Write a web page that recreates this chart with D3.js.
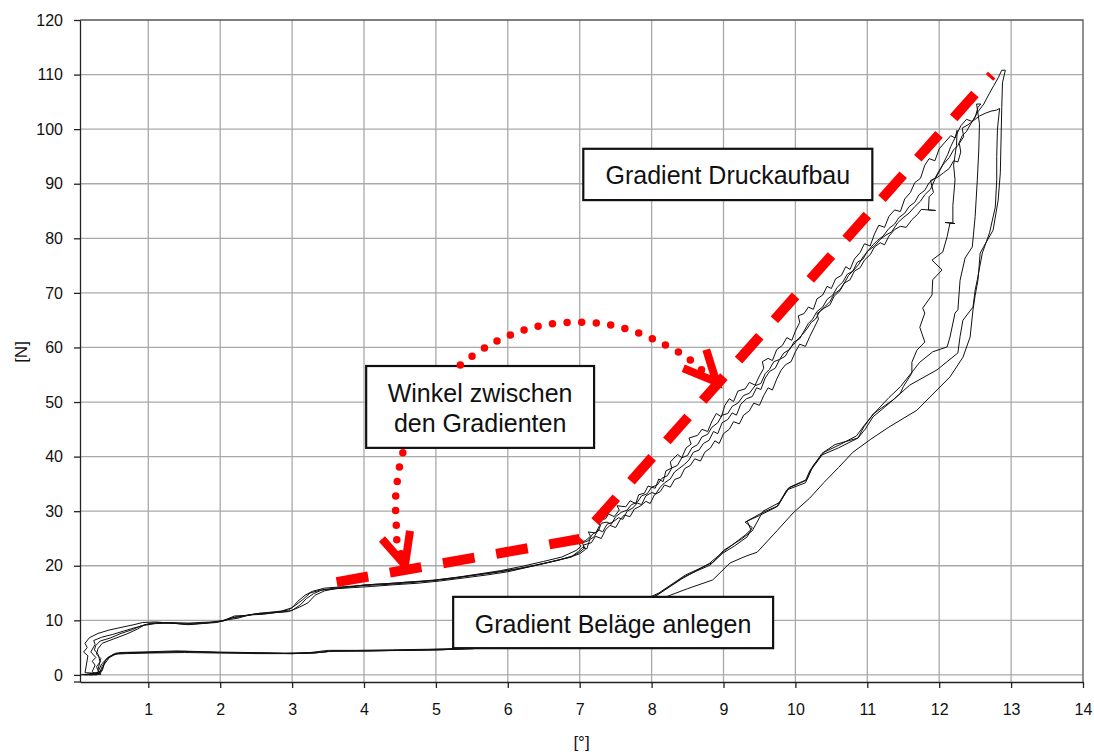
<!DOCTYPE html>
<html>
<head>
<meta charset="utf-8">
<script src="https://cdn.jsdelivr.net/npm/d3@7"></script>
<style>
  html, body { margin: 0; padding: 0; background: #fff; }
  svg { display: block; }
  text { font-family: "Liberation Sans", Arial, Helvetica, sans-serif; }
</style>
</head>
<body>
<svg id="chart" width="1094" height="754"></svg>
<script>
// Axis ticks
const xTicks = [1, 2, 3, 4, 5, 6, 7, 8, 9, 10, 11, 12, 13, 14];
const yTicks = [0, 10, 20, 30, 40, 50, 60, 70, 80, 90, 100, 110, 120];
const xLabel = "[°]";
const yLabel = "[N]";

// Measured force [N] over travel angle [°], four load/unload cycles
const cycleA = [
  [0.06,0.0],[0.30,0.3],[0.12,0.4],[0.16,3.5],[0.10,4.2],[0.15,5.0],[0.12,5.8],[0.18,6.8],[0.30,7.6],[0.45,8.2],[0.62,8.7],[0.80,9.2],[0.92,9.6],[1.10,9.7],[1.30,9.5],[1.50,9.3],[1.70,9.6],[1.90,9.7],[2.05,10.0],[2.20,10.8],[2.35,10.9],[2.50,11.2],[2.70,11.5],[2.85,11.7],[3.00,12.3],[3.08,13.5],[3.18,14.6],[3.28,15.3],[3.45,15.9],[3.65,16.1],[3.90,16.3],[4.15,16.6],[4.40,16.8],[4.70,17.1],[5.00,17.4],[5.30,17.9],[5.60,18.5],[5.90,19.1],[6.20,19.9],[6.50,20.8],[6.75,21.6],[6.95,22.8],
  [7.02,23.6],[6.98,24.2],[7.08,24.6],[7.15,25.4],[7.12,26.2],[7.22,26.0],[7.28,27.4],[7.25,28.3],[7.36,28.6],[7.40,29.5],[7.48,29.0],[7.55,30.2],[7.52,31.0],[7.64,30.8],[7.70,31.9],[7.78,31.4],[7.82,33.0],[7.90,33.3],[7.95,34.6],[8.05,34.2],[8.10,35.9],[8.16,35.4],[8.20,37.4],[8.28,37.9],[8.26,39.0],[8.36,40.4],[8.42,39.8],[8.48,41.6],[8.55,42.3],[8.52,43.4],[8.64,43.9],[8.70,45.0],[8.78,44.6],[8.84,46.5],[8.90,47.9],[8.97,47.3],[9.02,49.4],[9.08,50.6],[9.14,50.1],[9.20,52.0],[9.30,52.4],[9.36,53.6],[9.44,53.1],[9.50,54.8],[9.56,56.2],[9.54,57.4],[9.62,58.0],[9.68,57.6],[9.74,59.6],[9.82,60.4],[9.88,61.8],[9.95,61.3],[10.00,63.0],[10.06,64.6],[10.04,65.8],[10.12,66.2],[10.18,67.4],[10.25,67.0],[10.30,68.9],[10.38,69.6],[10.44,71.2],[10.50,70.8],[10.56,72.6],[10.64,73.2],[10.70,74.8],[10.76,74.3],[10.82,76.2],[10.90,77.4],[10.96,79.0],[11.04,78.6],[11.10,80.8],[11.16,82.4],[11.24,82.0],[11.30,84.0],[11.38,85.2],[11.46,84.9],[11.52,87.2],[11.60,88.4],[11.66,90.2],[11.74,91.0],[11.80,93.4],[11.86,94.6],[11.94,94.2],[12.00,96.4],[12.08,97.6],[12.16,98.8],[12.22,98.4],[12.30,100.6],[12.38,101.8],[12.46,101.4],[12.54,103.2],[12.62,104.6],[12.70,106.6],[12.76,108.0],[12.82,109.4],[12.87,110.8],
  [12.92,110.8],[12.88,108.5],[12.87,104.0],[12.86,98.0],[12.85,92.0],[12.82,87.0],[12.75,81.5],[12.62,78.5],[12.57,77.3],[12.54,72.4],[12.50,69.5],[12.47,66.9],[12.43,61.9],[12.33,58.2],[12.15,54.6],[11.87,50.9],[11.69,48.5],[11.30,45.4],[11.05,43.2],[10.80,40.8],[10.60,38.0],[10.40,35.3],[10.20,32.4],[9.97,29.7],[9.75,26.5],[9.47,22.5],[9.30,21.7],[9.09,20.5],[8.85,17.4],[8.50,15.8],[8.20,14.3],[7.80,12.0],[7.40,10.0],[7.00,8.0],[6.50,6.2],[6.00,5.2],[5.50,4.8],[5.00,4.6],[4.50,4.5],[4.00,4.4],[3.50,4.3],[3.30,4.0],[3.00,3.9],[2.50,4.0],[2.00,4.1],[1.50,4.3],[1.00,4.1],[0.70,4.1],[0.55,4.0],[0.45,3.3],[0.35,2.0],[0.30,0.5],[0.15,0.1]
];

const cycleB = [
  [0.08,0.1],[0.28,0.0],[0.22,0.6],[0.26,1.8],[0.22,2.5],[0.27,3.2],[0.20,4.2],[0.26,5.6],[0.24,6.3],[0.35,6.9],[0.50,7.4],[0.65,8.0],[0.80,8.6],[0.95,9.1],[1.10,9.4],[1.35,9.5],[1.55,9.2],[1.75,9.4],[1.95,9.6],[2.10,10.1],[2.25,10.4],[2.40,11.0],[2.60,11.1],[2.75,11.4],[2.95,11.6],[3.10,12.4],[3.22,13.2],[3.32,14.6],[3.45,15.4],[3.60,15.8],[3.85,16.0],[4.10,16.2],[4.40,16.5],[4.75,16.8],[5.05,17.2],[5.35,17.7],[5.70,18.3],[6.00,18.9],[6.30,19.8],[6.60,20.7],[6.85,21.5],[7.00,22.2],
  [7.08,23.0],[7.05,23.8],[7.16,24.2],[7.22,25.4],[7.30,25.0],[7.36,26.6],[7.42,27.4],[7.50,27.0],[7.56,28.4],[7.62,29.3],[7.70,29.0],[7.76,30.4],[7.84,30.9],[7.92,31.8],[7.98,31.4],[8.04,33.0],[8.12,33.6],[8.18,34.8],[8.26,34.4],[8.32,35.8],[8.40,36.2],[8.46,37.8],[8.54,38.4],[8.60,39.6],[8.68,39.2],[8.74,40.8],[8.82,41.6],[8.88,42.9],[8.94,42.4],[9.00,44.2],[9.08,45.0],[9.14,46.4],[9.22,46.0],[9.28,47.6],[9.36,48.4],[9.42,49.8],[9.50,49.4],[9.56,51.2],[9.62,52.6],[9.68,52.2],[9.74,54.2],[9.80,55.8],[9.86,56.8],[9.94,57.4],[10.00,59.2],[10.06,60.6],[10.14,60.2],[10.20,62.0],[10.26,63.6],[10.32,65.2],[10.30,66.2],[10.40,67.2],[10.48,67.8],[10.54,69.4],[10.62,70.4],[10.68,71.8],[10.76,72.4],[10.82,74.0],[10.90,74.6],[10.96,76.0],[11.04,77.0],[11.10,78.4],[11.18,79.2],[11.24,78.8],[11.30,80.4],[11.38,81.6],[11.46,82.2],[11.54,82.0],[11.62,83.4],[11.70,84.4],[11.75,85.3],[11.95,85.1],[11.85,85.2],[11.86,87.6],[11.92,88.4],[11.88,90.6],[11.98,91.2],[12.06,92.0],[12.14,92.8],[12.20,94.2],[12.26,94.0],[12.30,95.8],[12.28,97.4],[12.34,98.6],[12.32,100.2],[12.40,100.8],[12.48,101.6],[12.56,102.4],[12.64,102.9],[12.72,103.3],[12.80,103.5],[12.84,103.8],
  [12.81,100.0],[12.80,95.0],[12.80,90.7],[12.78,85.7],[12.70,81.0],[12.60,77.3],[12.53,72.4],[12.50,70.5],[12.47,67.4],[12.33,65.0],[12.29,62.0],[12.26,59.0],[11.97,55.9],[11.59,53.1],[11.36,50.4],[11.20,48.6],[11.08,47.3],[10.97,45.0],[10.87,43.4],[10.60,41.6],[10.37,40.3],[10.22,37.6],[10.14,35.2],[9.88,33.9],[9.74,30.8],[9.50,29.2],[9.30,28.0],[9.40,27.0],[9.33,25.3],[9.15,23.6],[8.99,22.3],[8.81,20.1],[8.62,19.0],[8.44,17.9],[8.25,16.2],[8.07,14.6],[7.70,12.4],[7.30,10.4],[6.90,8.5],[6.40,6.6],[5.90,5.4],[5.40,4.9],[4.90,4.7],[4.40,4.6],[3.90,4.5],[3.50,4.5],[3.25,4.1],[2.90,4.0],[2.40,4.1],[1.90,4.2],[1.40,4.4],[0.90,4.2],[0.62,4.1],[0.50,3.6],[0.40,2.6],[0.36,0.8],[0.22,0.0]
];

const cycleC = [
  [0.10,0.0],[0.32,0.2],[0.28,1.5],[0.33,2.4],[0.30,3.8],[0.25,4.6],[0.27,5.4],[0.33,6.2],[0.48,6.8],[0.62,7.6],[0.78,8.3],[0.90,9.0],[1.05,9.5],[1.30,9.6],[1.55,9.5],[1.80,9.5],[2.00,9.8],[2.15,10.4],[2.30,10.7],[2.45,11.1],[2.65,11.3],[2.85,11.5],[3.00,11.8],[3.12,12.9],[3.20,14.0],[3.30,14.9],[3.42,15.6],[3.60,15.9],[3.80,16.2],[4.05,16.4],[4.35,16.6],[4.65,16.9],[4.95,17.3],[5.25,17.8],[5.55,18.3],[5.85,18.9],[6.15,19.5],[6.45,20.3],[6.70,21.0],[6.90,21.8],
  [6.98,22.6],[7.04,23.4],[7.10,23.1],[7.14,24.8],[7.20,25.3],[7.26,26.6],[7.32,26.2],[7.38,27.6],[7.46,28.0],[7.54,28.8],[7.60,28.5],[7.66,30.0],[7.74,30.6],[7.80,31.5],[7.86,31.2],[7.92,32.8],[8.00,33.4],[8.06,33.2],[8.12,34.4],[8.18,35.2],[8.26,35.9],[8.32,37.2],[8.38,37.8],[8.46,38.6],[8.52,39.4],[8.58,40.8],[8.66,41.2],[8.72,42.4],[8.80,43.0],[8.86,44.6],[8.92,44.2],[8.98,46.2],[9.06,46.8],[9.12,48.0],[9.18,47.6],[9.24,49.6],[9.32,50.6],[9.40,51.0],[9.46,52.6],[9.52,52.3],[9.58,54.4],[9.64,55.6],[9.72,56.2],[9.78,57.8],[9.86,58.4],[9.92,59.8],[9.98,60.6],[10.04,61.6],[10.10,62.4],[10.16,63.4],[10.22,64.6],[10.28,65.2],[10.34,66.6],[10.42,67.6],[10.48,68.4],[10.54,69.8],[10.62,70.6],[10.68,71.8],[10.74,73.2],[10.80,74.0],[10.86,75.6],[10.94,76.2],[11.00,77.6],[11.08,78.8],[11.14,79.6],[11.22,80.4],[11.30,81.8],[11.38,82.6],[11.44,83.8],[11.52,84.6],[11.58,85.8],[11.66,86.6],[11.72,88.0],[11.80,88.8],[11.86,90.2],[11.94,91.0],[12.00,92.4],[12.06,93.6],[12.14,94.8],[12.20,96.2],[12.26,97.0],[12.32,98.8],[12.38,99.6],[12.44,101.0],[12.50,102.2],[12.54,104.0],[12.58,104.6],[12.52,104.6],
  [12.56,101.0],[12.55,96.0],[12.53,90.7],[12.50,84.0],[12.46,78.4],[12.36,76.4],[12.29,72.3],[12.26,66.9],[12.22,66.3],[12.15,61.9],[12.11,60.1],[11.91,59.2],[11.73,57.3],[11.46,52.8],[11.30,50.8],[11.10,48.0],[10.95,45.6],[10.85,43.8],[10.62,42.2],[10.40,40.8],[10.25,38.4],[10.16,35.8],[9.92,34.4],[9.78,31.6],[9.55,30.0],[9.40,26.4],[9.25,24.9],[9.00,22.8],[8.85,20.6],[8.47,18.3],[8.10,15.0],[7.60,12.0],[7.10,9.2],[6.60,7.0],[6.10,5.6],[5.60,5.0],[5.10,4.6],[4.60,4.5],[4.10,4.4],[3.60,4.4],[3.35,4.1],[3.00,3.9],[2.50,4.0],[2.00,4.0],[1.50,4.1],[1.00,4.0],[0.70,3.9],[0.52,3.8],[0.42,3.0],[0.36,1.6],[0.32,0.3],[0.18,0.0]
];

const cycleD = [
  [0.12,0.0],[0.34,0.1],[0.30,1.0],[0.34,3.0],[0.28,3.8],[0.30,4.8],[0.36,5.8],[0.52,6.6],[0.70,7.5],[0.85,8.4],[0.95,9.2],[1.15,9.6],[1.40,9.4],[1.62,9.3],[1.85,9.6],[2.05,9.9],[2.20,10.6],[2.40,10.9],[2.55,11.3],[2.75,11.4],[2.95,11.9],[3.05,12.8],[3.15,13.8],[3.25,15.0],[3.38,15.5],[3.55,15.7],[3.75,16.0],[4.00,16.5],[4.30,16.7],[4.60,17.0],[4.90,17.2],[5.20,17.6],[5.50,18.2],[5.80,18.7],[6.10,19.3],[6.40,20.1],[6.65,20.9],[6.88,21.6],[7.00,22.5],
  [7.06,23.2],[7.04,24.2],[7.12,24.6],[7.18,25.8],[7.26,26.4],[7.30,27.8],[7.38,28.0],[7.44,27.6],[7.50,29.0],[7.58,29.8],[7.66,30.2],[7.72,31.2],[7.80,31.6],[7.86,32.8],[7.94,33.2],[8.00,34.4],[8.08,34.8],[8.14,36.0],[8.22,36.5],[8.28,37.9],[8.36,38.4],[8.42,39.8],[8.50,40.2],[8.56,41.6],[8.64,42.2],[8.70,43.6],[8.78,44.1],[8.84,45.4],[8.92,46.2],[8.98,47.6],[9.06,47.9],[9.12,49.2],[9.20,49.8],[9.28,51.2],[9.36,51.6],[9.44,53.0],[9.52,53.4],[9.58,55.2],[9.64,56.0],[9.70,57.4],[9.78,57.8],[9.84,59.0],[9.92,59.6],[9.98,61.0],[10.06,61.6],[10.12,63.0],[10.18,64.4],[10.24,65.2],[10.30,66.6],[10.38,67.4],[10.44,68.8],[10.52,69.6],[10.58,71.0],[10.66,72.0],[10.72,73.4],[10.80,74.0],[10.88,75.2],[10.94,76.6],[11.02,77.8],[11.10,78.6],[11.18,79.8],[11.26,80.6],[11.34,81.2],[11.42,82.8],[11.50,83.8],[11.58,84.6],[11.66,85.8],[11.74,86.8],[11.80,88.0],[11.88,89.0],[11.94,90.8],[12.00,92.2],[12.06,93.8],[12.12,95.4],[12.16,96.8],[12.22,98.4],[12.25,99.8],
  [12.24,97.0],[12.20,93.4],[12.22,90.7],[12.19,86.0],[12.19,82.8],[12.08,82.9],[12.22,82.7],[12.15,82.8],[12.11,80.3],[12.05,77.5],[11.90,76.0],[12.04,74.2],[11.91,72.4],[11.90,69.6],[11.77,67.2],[11.80,66.3],[11.73,63.7],[11.80,61.0],[11.69,59.5],[11.62,57.3],[11.62,55.3],[11.50,52.8],[11.46,51.6],[11.36,50.4],[11.25,49.4],[11.08,47.8],[10.95,45.4],[10.87,43.4],[10.55,42.2],[10.37,40.6],[10.20,37.4],[10.14,35.6],[9.90,34.2],[9.76,31.0],[9.52,29.6],[9.33,28.2],[9.38,26.6],[9.30,25.6],[9.00,22.6],[8.80,20.4],[8.42,17.6],[8.05,14.4],[7.50,11.2],[7.00,8.6],[6.50,6.8],[6.00,5.3],[5.50,4.8],[5.00,4.6],[4.50,4.5],[4.00,4.4],[3.60,4.4],[3.30,4.0],[3.00,3.9],[2.50,3.9],[2.00,4.1],[1.50,4.3],[1.00,4.1],[0.70,4.0],[0.56,3.9],[0.46,3.2],[0.38,1.8],[0.34,0.4],[0.20,0.0]
];

const cycles = [cycleA, cycleB, cycleC, cycleD];

// Gradient construction lines (plate contact, then pressure build-up)
const gradientLine = [[3.62, 17.0], [7.0, 24.9], [12.73, 109.9]];

// Callout boxes: [x0, y0 (top), x1, y1 (bottom)] in data units, and their text lines
const boxDruck = { x0: 7.05, y0: 96.4, x1: 11.07, y1: 87.0, lines: ["Gradient Druckaufbau"] };
const boxWinkel = { x0: 4.03, y0: 56.6, x1: 7.2, y1: 41.6, lines: ["Winkel zwischen", "den Gradienten"] };
const boxBelaege = { x0: 5.24, y0: 14.3, x1: 9.69, y1: 4.9, lines: ["Gradient Beläge anlegen"] };

// Dotted arrows from the angle callout to both gradients
const arcUpper = [[5.34, 56.8], [5.70, 60.1], [6.10, 62.6], [6.50, 64.1], [6.93, 64.6], [7.34, 64.3], [7.74, 63.0], [8.14, 60.8], [8.50, 58.1], [8.72, 55.6]];
const arcUpperHead = [[8.44, 56.2], [8.90, 53.7], [8.76, 59.6]];
const arcLower = [[4.54, 40.7], [4.49, 37.9], [4.46, 35.2], [4.44, 32.5], [4.44, 29.9], [4.45, 27.1], [4.46, 24.4], [4.52, 22.0]];
const arcLowerHead = [[4.25, 24.9], [4.57, 20.1], [4.64, 26.4]];

const svg = d3.select("#chart");
const x = d3.scaleLinear().domain([0.05, 14]).range([80, 1083]);
const y = d3.scaleLinear().domain([-1.3, 120]).range([682, 20]);

// Grid
const grid = svg.append("g");
grid.selectAll("line.h").data(yTicks.filter(v => v < 120)).join("line")
  .attr("x1", x(0.05)).attr("x2", x(14))
  .attr("y1", d => y(d)).attr("y2", d => y(d))
  .attr("stroke", "#a9a9a9").attr("stroke-width", 1.3);
grid.selectAll("line.v").data(xTicks.filter(v => v < 14)).join("line")
  .attr("x1", d => x(d)).attr("x2", d => x(d))
  .attr("y1", y(120)).attr("y2", y(-1.3))
  .attr("stroke", "#a9a9a9").attr("stroke-width", 1.3);

// Plot frame (top and right)
svg.append("path")
  .attr("d", `M${x(0.05)},${y(120)}H${x(14)}V${y(-1.3)}`)
  .attr("fill", "none").attr("stroke", "#555").attr("stroke-width", 1.3);

// Axes
const yAxis = svg.append("g").attr("transform", `translate(${x(0.05)},0)`)
  .call(d3.axisLeft(y).tickValues(yTicks).tickSize(6).tickSizeOuter(0).tickPadding(11));
const xAxis = svg.append("g").attr("transform", `translate(0,${y(-1.3)})`)
  .call(d3.axisBottom(x).tickValues(xTicks).tickSize(6).tickSizeOuter(0).tickPadding(16));
[xAxis, yAxis].forEach(g => {
  g.selectAll("path.domain").attr("stroke", "#222").attr("stroke-width", 1.3);
  g.selectAll(".tick line").attr("stroke", "#222").attr("stroke-width", 1.3);
  g.selectAll(".tick text").attr("fill", "#111").style("font-size", "16px")
    .style("font-family", '"Liberation Sans", Arial, sans-serif');
});
// x axis line also extends left under the y tick area
svg.append("line").attr("x1", x(0.05) - 6).attr("x2", x(0.05))
  .attr("y1", y(-1.3)).attr("y2", y(-1.3)).attr("stroke", "#222").attr("stroke-width", 1.3);

svg.append("text").attr("transform", `translate(27,${(y(120) + y(-1.3)) / 2 + 1}) rotate(-90)`)
  .attr("text-anchor", "middle").style("font-size", "17px").attr("fill", "#111").text(yLabel);
svg.append("text").attr("x", (x(0.05) + x(14)) / 2).attr("y", 748)
  .attr("text-anchor", "middle").style("font-size", "17px").attr("fill", "#111").text(xLabel);

// Measurement curves
const line = d3.line().x(d => x(d[0])).y(d => y(d[1]));
svg.append("g").selectAll("path").data(cycles).join("path")
  .attr("d", line).attr("fill", "none").attr("stroke", "#111")
  .attr("stroke-width", 1).attr("stroke-linejoin", "miter");

// Dashed gradient construction line
svg.append("path").attr("d", line(gradientLine))
  .attr("fill", "none").attr("stroke", "#ff0000").attr("stroke-width", 10)
  .attr("stroke-dasharray", "32 22").attr("stroke-linejoin", "miter");

// Callout boxes
function drawBox(b) {
  const g = svg.append("g");
  const bx = x(b.x0), by = y(b.y0), bw = x(b.x1) - x(b.x0), bh = y(b.y1) - y(b.y0);
  g.append("rect").attr("x", bx).attr("y", by).attr("width", bw).attr("height", bh)
    .attr("fill", "#fff").attr("stroke", "#111").attr("stroke-width", 2.2);
  const cx = bx + bw / 2, cy = by + bh / 2;
  const lh = 30;
  b.lines.forEach((t, i) => {
    g.append("text").attr("x", cx)
      .attr("y", cy + 10 + (i - (b.lines.length - 1) / 2) * lh)
      .attr("text-anchor", "middle").style("font-size", "25px").attr("fill", "#111").text(t);
  });
}
[boxDruck, boxWinkel, boxBelaege].forEach(drawBox);

// Dotted arrows
const smooth = d3.line().x(d => x(d[0])).y(d => y(d[1])).curve(d3.curveCatmullRom);
[arcUpper, arcLower].forEach(a => {
  svg.append("path").attr("d", smooth(a)).attr("fill", "none")
    .attr("stroke", "#ff0000").attr("stroke-width", 7.5)
    .attr("stroke-linecap", "round").attr("stroke-dasharray", "0 14.6");
});
[arcUpperHead, arcLowerHead].forEach(h => {
  svg.append("path").attr("d", line(h)).attr("fill", "none")
    .attr("stroke", "#ff0000").attr("stroke-width", 8)
    .attr("stroke-linecap", "butt").attr("stroke-linejoin", "miter");
});
</script>
</body>
</html>
